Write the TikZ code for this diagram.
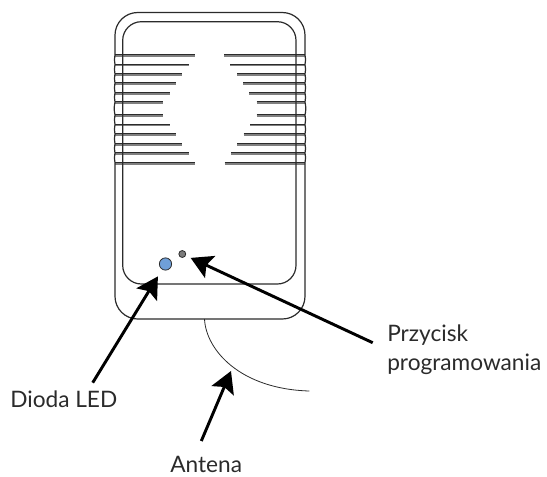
\documentclass[tikz,border=0pt]{standalone}
\usepackage{fontspec}
\setmainfont{Lato}
\usetikzlibrary{arrows.meta}
\definecolor{casing}{HTML}{2B2B2B}
\definecolor{slatshade}{HTML}{808080}
\definecolor{ledblue}{HTML}{6F9FD8}
\definecolor{btngray}{HTML}{7C7C7C}
\tikzset{
	casingline/.style = {draw=casing, line width=0.9pt},
	pointer/.style = {line width=2.2pt, -{Stealth[length=16pt, width=18pt, inset=3pt]}},
	callout/.style = {text=casing, font=\fontsize{17}{17}\selectfont, inner sep=0pt, anchor=base west}
}
\begin{document}
\begin{tikzpicture}[x=0.75pt, y=-0.75pt]
	\useasboundingbox (0,0) rectangle (547,476);

	% slats
	\foreach \y/\xl/\xr in {55/195/224, 64.5/188.7/230.3, 74/181.7/237.3, 83/175.7/243, 92.7/169.7/249.3, 102/162.7/256.7, 115/162.7/256.7, 124.5/170/250, 134/176.3/243.7, 143.7/182/237.3, 153/188.7/231.3, 162.7/195/224.7} {
		\draw[slatshade, line width=1.5pt] (115,\y+0.8) -- (\xl,\y+0.8);
		\draw[slatshade, line width=1.5pt] (\xr,\y+0.8) -- (305,\y+0.8);
		\draw[casing, line width=0.9pt] (115,\y-0.4) -- (\xl,\y-0.4);
		\draw[casing, line width=0.9pt] (\xr,\y-0.4) -- (305,\y-0.4);
	}

	% casing
	\draw[casingline, rounded corners=17] (115,55) -- (115,12.5) -- (305,12.5) -- (305,55);
	\draw[casingline, rounded corners=17] (115,162.7) -- (115,319) -- (305,319) -- (305,162.7);
	\foreach \ya/\yb in {55/64.5, 64.5/74, 74/83, 83/92.7, 92.7/102, 102/115, 115/124.5, 124.5/134, 134/143.7, 143.7/153, 153/162.7} {
		\draw[casingline] (115,\ya) to[bend right=12] (115,\yb);
		\draw[casingline] (305,\ya) to[bend left=12] (305,\yb);
	}
	\draw[casingline, rounded corners=14] (122.7,100) -- (122.7,21.7) -- (296,21.7) -- (296,284) -- (122.7,284) -- cycle;

	\node[circle, draw=casing, fill=ledblue, line width=0.6pt, minimum size=9.2pt, inner sep=0pt] (led) at (165.5,264) {};
	\node[circle, draw=casing, fill=btngray, line width=0.6pt, minimum size=5.2pt, inner sep=0pt] (btn) at (182.3,254) {};

	% antenna
	\coordinate (antstart) at (204.5,319);
	\coordinate (antend) at (309.3,391);
	\coordinate (anttip) at (231,371);
	\draw[casing, line width=0.6pt] (antstart) .. controls (206,350) and (240,389) .. (antend);

	% labels
	\node[callout] (dioda) at (10,407.7) {Dioda LED};
	\node[callout] (antena) at (170,472) {Antena};
	\node[callout] (przycisk) at (387,341.7) {Przycisk};
	\node[callout] (programowania) at (387,370.7) {programowania};

	\coordinate (diodaend) at (92.7,382.7);
	\coordinate (antenaend) at (201.3,441);
	\coordinate (przyciskend) at (372.7,342.7);

	\draw[pointer, shorten >=6pt] (diodaend) -- (led);
	\draw[pointer] (antenaend) -- (anttip);
	\draw[pointer, shorten >=4pt] (przyciskend) -- (btn);
\end{tikzpicture}
\end{document}
